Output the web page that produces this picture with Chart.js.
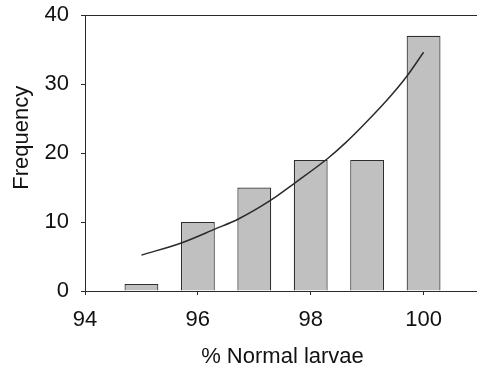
<!DOCTYPE html>
<html>
<head>
<meta charset="utf-8">
<script src="https://cdn.jsdelivr.net/npm/chart.js@4.4.1/dist/chart.umd.min.js"></script>
<style>
  html, body { margin: 0; padding: 0; background: #fff; overflow: hidden; }
  #wrap { width: 480px; height: 373px; }
</style>
</head>
<body>
<div id="wrap"><canvas id="c" width="480" height="373"></canvas></div>
<script>
// Histogram bins (% normal larvae) and frequencies
const binCenters = [95, 96, 97, 98, 99, 100];
const frequencies = [1, 10, 15, 19, 19, 37];

// Fitted curve
const curveX = [95.0, 95.72, 96.31, 96.71, 97.3, 97.71, 98.3, 98.62, 99.0, 99.42, 99.71, 100.0];
const curveY = [5.2, 7.0, 9.0, 10.4, 13.2, 15.6, 19.2, 21.5, 24.6, 28.3, 31.2, 34.6];

// Axis ticks
const xTicks = [94, 96, 98, 100];
const yTicks = [0, 10, 20, 30, 40];

const xTitle = '% Normal larvae';
const yTitle = 'Frequency';

const FONT = '"Liberation Sans", Arial, sans-serif';
const INK = '#2b2b2b';

const barData = binCenters.map((x, i) => ({ x: x, y: frequencies[i] }));
const curveData = curveX.map((x, i) => ({ x: x, y: curveY[i] }));

function noPad(s) {
  s.paddingTop = 0; s.paddingBottom = 0; s.paddingLeft = 0; s.paddingRight = 0;
}

new Chart(document.getElementById('c'), {
  type: 'bar',
  data: {
    datasets: [
      {
        type: 'line',
        data: curveData,
        borderColor: '#2a2a2a',
        borderWidth: 1.5,
        pointRadius: 0,
        fill: false,
        cubicInterpolationMode: 'monotone',
        order: 0
      },
      {
        type: 'bar',
        data: barData,
        backgroundColor: '#c0c0c0',
        borderColor: '#2e2e2e',
        borderWidth: 1.2,
        categoryPercentage: 0.8,
        barPercentage: 0.75,
        order: 1
      }
    ]
  },
  options: {
    responsive: false,
    animation: false,
    devicePixelRatio: 1,
    layout: { padding: { left: 0, right: 0, top: 15, bottom: 0 } },
    plugins: { legend: { display: false }, tooltip: { enabled: false } },
    scales: {
      x: {
        type: 'linear',
        position: 'bottom',
        min: 94,
        max: 101,
        offset: false,
        afterFit: s => { s.height = 82; noPad(s); },
        afterBuildTicks: s => { s.ticks = xTicks.map(v => ({ value: v })); },
        ticks: {
          includeBounds: false,
          color: '#111',
          padding: 12,
          font: { family: FONT, size: 22 },
          maxRotation: 0
        },
        grid: { display: true, offset: false, drawOnChartArea: false, drawTicks: true, tickLength: 4, color: INK },
        border: { display: true, color: INK, width: 1 },
        title: {
          display: true,
          text: xTitle,
          color: '#111',
          font: { family: FONT, size: 22 },
          padding: { top: 0, bottom: 3 }
        }
      },
      xTop: {
        type: 'linear',
        position: 'top',
        min: 94,
        max: 101,
        offset: false,
        afterFit: s => { s.height = 0; noPad(s); },
        ticks: { display: false },
        grid: { display: false, drawTicks: false },
        border: { display: true, color: INK, width: 1 }
      },
      y: {
        type: 'linear',
        min: 0,
        max: 40,
        afterFit: s => { s.width = 85; noPad(s); },
        afterBuildTicks: s => { s.ticks = yTicks.map(v => ({ value: v })); },
        ticks: {
          color: '#111',
          padding: 12,
          font: { family: FONT, size: 22 }
        },
        grid: { display: true, drawOnChartArea: false, drawTicks: true, tickLength: 4, color: INK },
        border: { display: true, color: INK, width: 1 },
        title: {
          display: true,
          text: '     ' + yTitle,
          color: '#111',
          font: { family: FONT, size: 22 },
          padding: { top: 8.5, bottom: 0 }
        }
      }
    }
  }
});
</script>
</body>
</html>
